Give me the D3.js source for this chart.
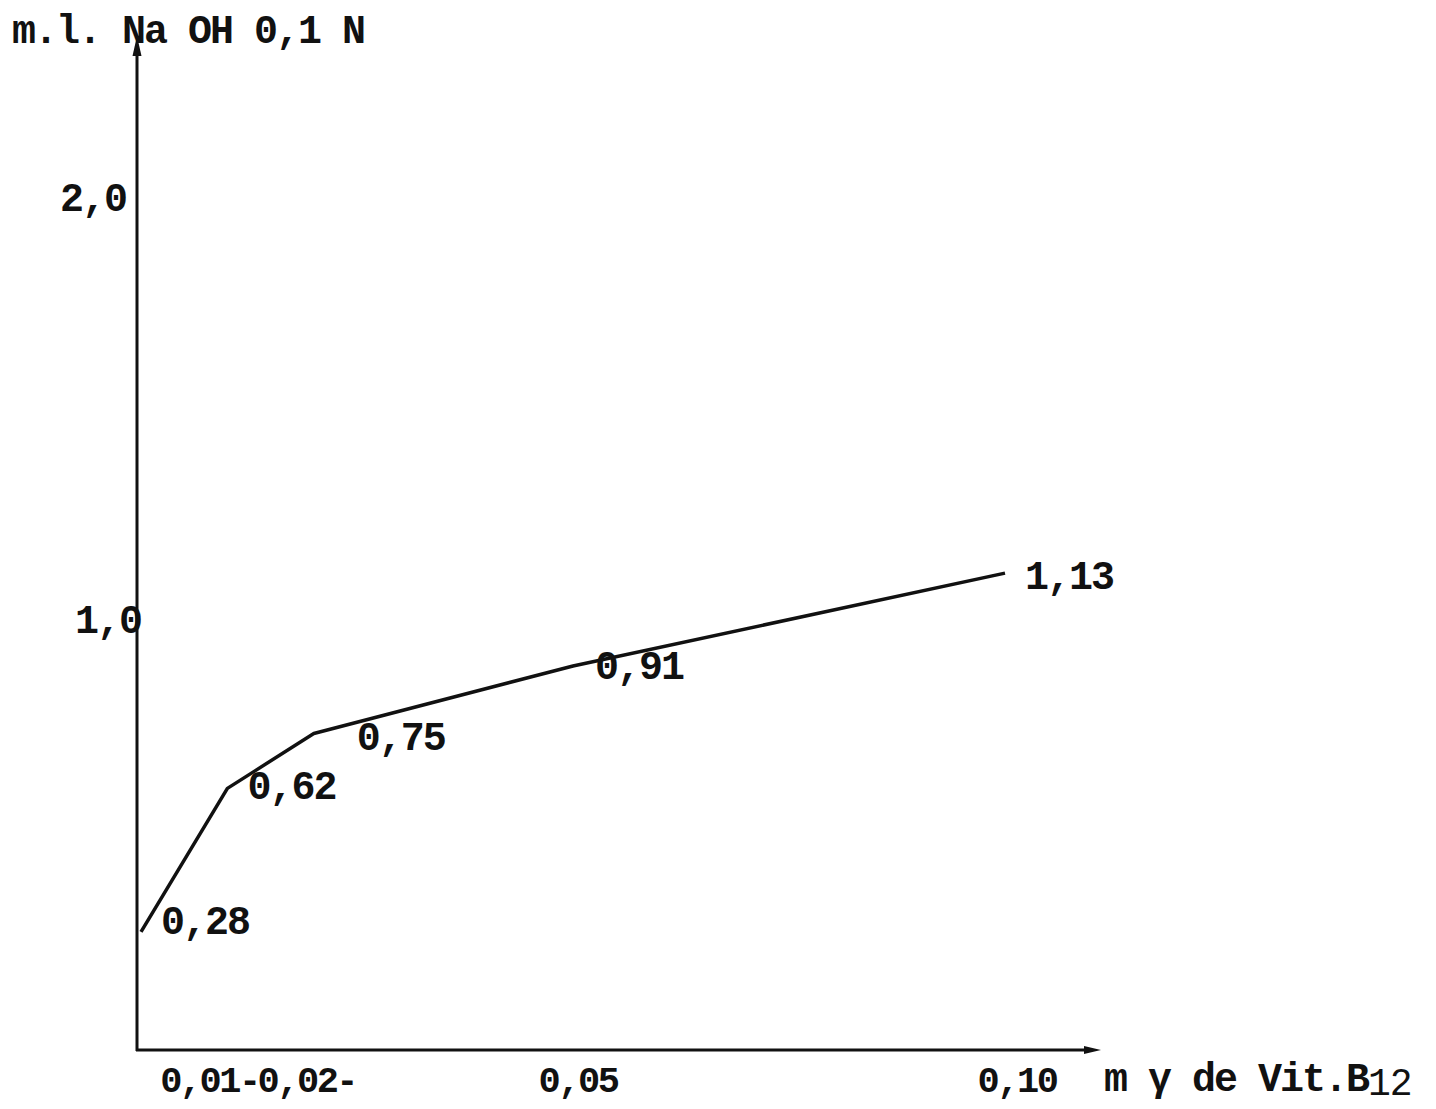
<!DOCTYPE html>
<html>
<head>
<meta charset="utf-8">
<script src="https://cdn.jsdelivr.net/npm/d3@7/dist/d3.min.js"></script>
<style>
  html, body { margin: 0; padding: 0; background: #fff; }
  svg text { font-family: "Liberation Mono", "Courier New", monospace; font-weight: bold; fill: #111; }
</style>
</head>
<body>
<svg id="chart" width="1436" height="1109"></svg>
<script>
// Titration volume of NaOH 0,1 N versus amount of vitamin B12
const doses = [0, 0.01, 0.02, 0.05, 0.10];
const volumes = [0.28, 0.62, 0.75, 0.91, 1.13];
const pointLabels = ["0,28", "0,62", "0,75", "0,91", "1,13"];

const xTickValues = [0.01, 0.02, 0.05, 0.10];
const xTickLabels = ["0,01-", "0,02-", "0,05", "0,10"];
const yTickValues = [1.0, 2.0];
const yTickLabels = ["1,0", "2,0"];

const yTitle = "m.l. Na OH 0,1 N";
const xTitle = "m \u03B3 de Vit.B";
const xTitleSub = "12";

const svg = d3.select("#chart");
const ink = "#111";

const x = d3.scaleLinear().domain([0, 0.10]).range([141, 1005]);
const y = d3.scaleLinear().domain([0, 2]).range([1050, 206]);

const axisX0 = 137, axisY0 = 1050;

// axes with arrowheads
svg.append("line").attr("x1", axisX0).attr("y1", axisY0 + 1).attr("x2", axisX0).attr("y2", 48)
  .attr("stroke", ink).attr("stroke-width", 3);
svg.append("path").attr("d", `M${axisX0},36 L${axisX0 - 4.5},56 L${axisX0 + 4.5},56 Z`).attr("fill", ink);

svg.append("line").attr("x1", axisX0 - 1).attr("y1", axisY0).attr("x2", 1090).attr("y2", axisY0)
  .attr("stroke", ink).attr("stroke-width", 3);
svg.append("path").attr("d", `M1101,${axisY0} L1084,${axisY0 - 4} L1084,${axisY0 + 4} Z`).attr("fill", ink);

const textStyle = sel => sel.attr("font-size", 40).attr("letter-spacing", -2);

// y tick labels
svg.selectAll("text.ytick").data(yTickValues).join("text")
  .attr("class", "ytick")
  .attr("x", (d, i) => i === 0 ? 141 : 126)
  .attr("y", d => y(d) - 6)
  .attr("dominant-baseline", "middle")
  .attr("text-anchor", "end")
  .call(textStyle)
  .text((d, i) => yTickLabels[i]);

// x tick labels
const xLabelShift = [-18, -7, 5, 12];
svg.selectAll("text.xtick").data(xTickValues).join("text")
  .attr("class", "xtick")
  .attr("x", (d, i) => x(d) + xLabelShift[i])
  .attr("y", 1092)
  .attr("text-anchor", "middle")
  .attr("font-size", 37).attr("letter-spacing", -2.5)
  .text((d, i) => xTickLabels[i]);

// axis titles
svg.append("text").attr("x", 12).attr("y", 43).call(textStyle).text(yTitle);
const xt = svg.append("text").attr("x", 1104).attr("y", 1091).call(textStyle);
xt.append("tspan").text(xTitle);
xt.append("tspan").attr("dy", 4).attr("font-weight", "normal").attr("font-size", 38).attr("letter-spacing", -1).text(xTitleSub);

// data polyline
const line = d3.line().x(d => x(d[0])).y(d => y(d[1]));
svg.append("path")
  .datum(doses.map((d, i) => [d, volumes[i]]))
  .attr("d", line)
  .attr("fill", "none")
  .attr("stroke", ink)
  .attr("stroke-width", 3.5)
  .attr("stroke-linejoin", "round");

// value labels next to each point
const labelDx = [20, 20, 43, 22, 20];
const labelDy = [-8, 0, 6, 2, 5];
svg.selectAll("text.val").data(doses).join("text")
  .attr("class", "val")
  .attr("x", (d, i) => x(d) + labelDx[i])
  .attr("y", (d, i) => y(volumes[i]) + labelDy[i])
  .attr("dominant-baseline", "middle")
  .call(textStyle)
  .text((d, i) => pointLabels[i]);
</script>
</body>
</html>
